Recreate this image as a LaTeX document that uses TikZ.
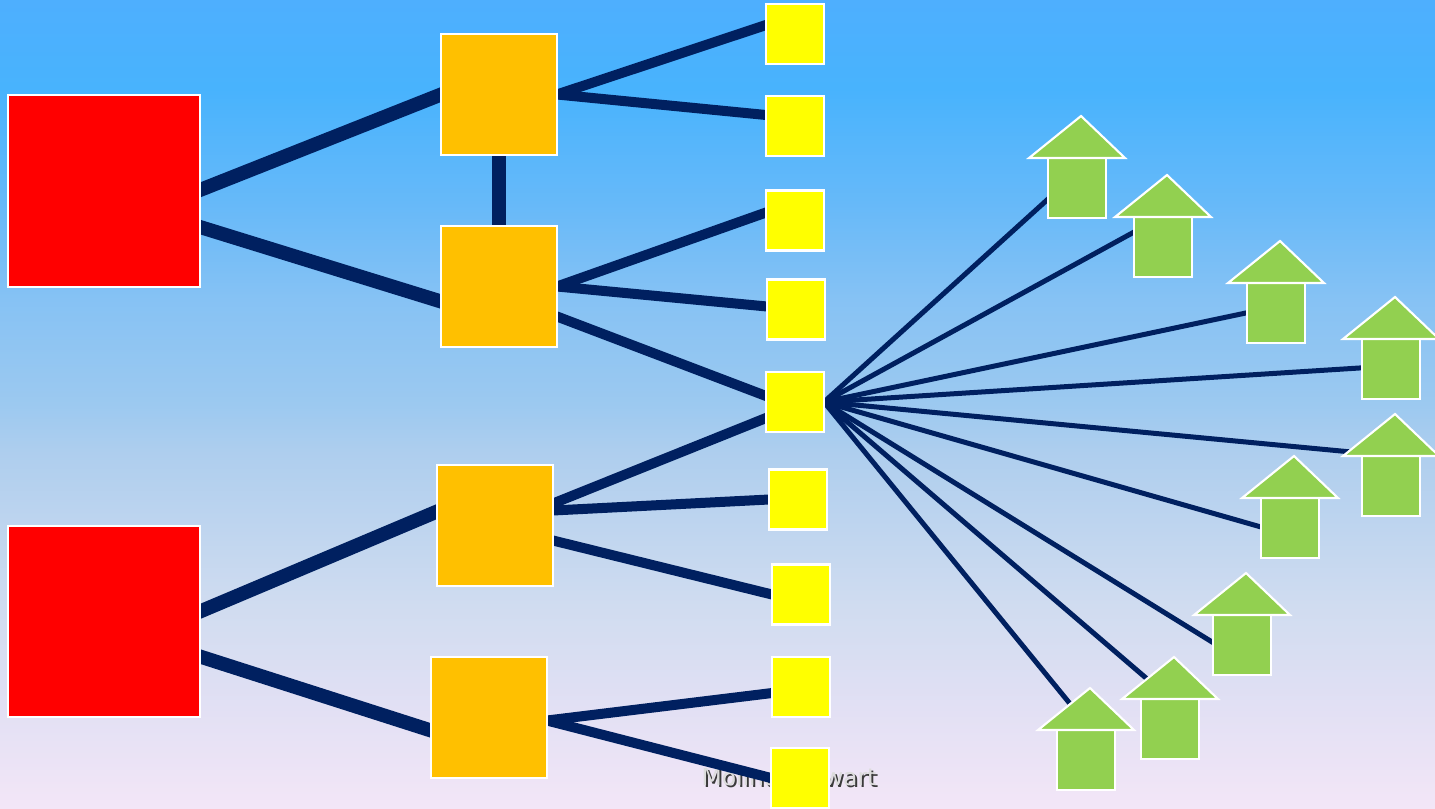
\documentclass[tikz,border=0pt]{standalone}
\usepackage{fontspec}
\newfontfamily\captionfont{DejaVu Sans}
\usetikzlibrary{calc}
\pgfdeclarelayer{bg}
\pgfdeclarelayer{lines}
\pgfsetlayers{bg,lines,main}
\definecolor{navy}{HTML}{002060}
\definecolor{redbox}{HTML}{FF0000}
\definecolor{orangebox}{HTML}{FFC000}
\definecolor{yellowbox}{HTML}{FFFF00}
\definecolor{greenarrow}{HTML}{92D050}
\definecolor{txtfill}{HTML}{DCDCDC}
\definecolor{txtshadow}{HTML}{3A3A3A}
\definecolor{skyA}{HTML}{F3E6F7}
\definecolor{skyB}{HTML}{E2E0F4}
\definecolor{skyC}{HTML}{D0DCF0}
\definecolor{skyD}{HTML}{AECEEE}
\definecolor{skyE}{HTML}{9CC9F0}
\definecolor{skyF}{HTML}{86C2F4}
\definecolor{skyG}{HTML}{66B9F9}
\definecolor{skyH}{HTML}{48B3FD}
\definecolor{skyI}{HTML}{4EAFFE}
\pgfdeclareverticalshading{skyshade}{100bp}{
  color(0bp)=(skyA);
  color(25bp)=(skyA);
  color(31.2bp)=(skyB);
  color(37.5bp)=(skyC);
  color(47bp)=(skyD);
  color(50bp)=(skyE);
  color(56.5bp)=(skyF);
  color(62.5bp)=(skyG);
  color(69.5bp)=(skyH);
  color(75bp)=(skyI);
  color(100bp)=(skyI)}
\begin{document}
\begin{tikzpicture}[x=0.02cm,y=-0.02cm,
  box/.style={draw=white,line width=1.2pt,inner sep=0pt,outer sep=0pt},
  bigbox/.style={box,fill=redbox,minimum width=3.84cm,minimum height=3.83cm},
  midbox/.style={box,fill=orangebox,minimum width=2.32cm,minimum height=2.42cm},
  smallbox/.style={box,fill=yellowbox,minimum width=1.16cm,minimum height=1.2cm},
  arrowbody/.style={box,fill=greenarrow,minimum width=1.16cm,minimum height=1.2cm},
  arrowhead/.style={draw=white,line width=1.2pt,fill=greenarrow,line join=miter},
  conthick/.style={draw=navy,line width=0.28cm,shorten <=-4pt,shorten >=-4pt},
  conmid/.style={draw=navy,line width=0.2cm,shorten <=-4pt,shorten >=-4pt},
  conthin/.style={draw=navy,line width=0.1cm,shorten <=-1pt},
  caption/.style={font=\captionfont\fontsize{13.3}{15}\selectfont,inner sep=0pt}
]
\useasboundingbox (0,0) rectangle (1435,808);
\begin{pgfonlayer}{bg}
  \shade[shading=skyshade] (0,0) rectangle (1435,808);
  \node[caption,text=txtshadow] (capshadow) at (791,779) {Molina Stewart};
  \node[caption,text=txtfill] (cap) at (789,777) {Molina Stewart};
\end{pgfonlayer}

% red boxes
\node[bigbox] (r1) at (104,191) {};
\node[bigbox] (r2) at (104,621.5) {};
% orange boxes
\node[midbox] (o1) at (499,94.5) {};
\node[midbox] (o2) at (499,286.5) {};
\node[midbox] (o3) at (495,525.5) {};
\node[midbox] (o4) at (489,717.5) {};
% yellow boxes
\node[smallbox] (y1) at (795,34) {};
\node[smallbox] (y2) at (795,126) {};
\node[smallbox] (y3) at (795,220.5) {};
\node[smallbox] (y4) at (796,309.5) {};
\node[smallbox] (y5) at (795,402) {};
\node[smallbox] (y6) at (798,499.5) {};
\node[smallbox] (y7) at (801,594.5) {};
\node[smallbox] (y8) at (801,687) {};
\node[smallbox] (y9) at (800,778) {};

% green arrows
\foreach \n/\cx/\ty in {1/1077/158,2/1163/217,3/1276/283,4/1391/339,5/1391/456,6/1290/498,7/1242/615,8/1170/699,9/1086/730}{
  \node[arrowbody] (a\n) at (\cx,\ty+30) {};
  \draw[arrowhead] ($(a\n.north west)+(-19,0)$) -- ($(a\n.north)+(4,-42)$) -- ($(a\n.north east)+(19,0)$) -- cycle;
}
% aim points of the thin connectors
\coordinate (t1) at (1058,190);
\coordinate (t2) at (1145,226);
\coordinate (t3) at (1260,310);
\coordinate (t4) at (1375,367);
\coordinate (t5) at (1362,453);
\coordinate (t6) at (1275,531);
\coordinate (t7) at (1225,650);
\coordinate (t8) at (1160,690);
\coordinate (t9) at (1080,716);

\begin{pgfonlayer}{lines}
  % thick connectors
  \draw[conthick] ($(r1.east)+(0,-1)$) -- (o1.west);
  \draw[conthick] ($(r1.east)+(0,36)$) -- ($(o2.west)+(0,15)$);
  \draw[conthick] (o1.south) -- (o2.north);
  \draw[conthick] ($(r2.east)+(0,-10)$) -- ($(o3.west)+(0,-14)$);
  \draw[conthick] ($(r2.east)+(0,35)$) -- ($(o4.west)+(0,13)$);
  % medium connectors
  \draw[conmid] (o1.east) -- ($(y1.west)+(0,-9)$);
  \draw[conmid] (o1.east) -- ($(y2.west)+(0,-11)$);
  \draw[conmid] (o2.east) -- ($(y3.west)+(0,-8)$);
  \draw[conmid] (o2.east) -- ($(y4.west)+(0,-3)$);
  \draw[conmid] ($(o2.east)+(0,30)$) -- ($(y5.west)+(0,-6)$);
  \draw[conmid] ($(o3.east)+(0,-22)$) -- ($(y5.west)+(0,16)$);
  \draw[conmid] ($(o3.east)+(0,-15)$) -- (y6.west);
  \draw[conmid] ($(o3.east)+(0,15)$) -- (y7.west);
  \draw[conmid] ($(o4.east)+(0,3)$) -- ($(y8.west)+(0,6)$);
  \draw[conmid] ($(o4.east)+(0,3)$) -- (y9.west);
  % thin connectors
  \foreach \n in {1,...,9}{
    \draw[conthin] (y5.east) -- (t\n);
  }
\end{pgfonlayer}
\end{tikzpicture}
\end{document}
